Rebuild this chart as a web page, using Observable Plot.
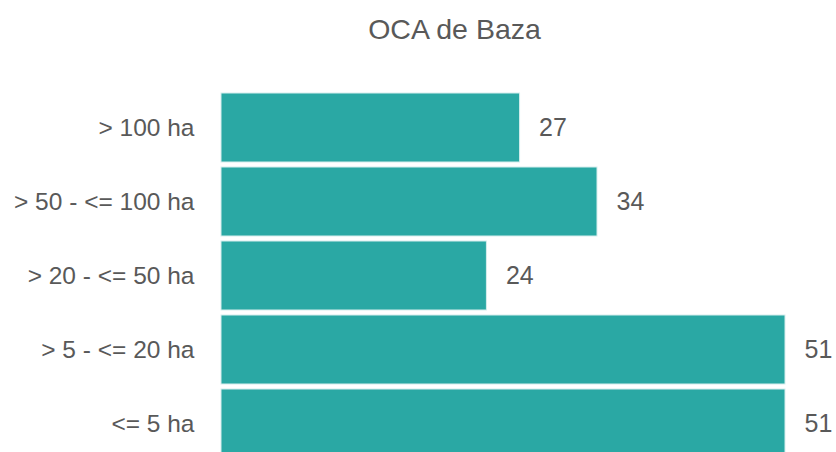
<!DOCTYPE html>
<html>
<head>
<meta charset="utf-8">
<script src="https://cdn.jsdelivr.net/npm/d3@7"></script>
<script src="https://cdn.jsdelivr.net/npm/@observablehq/plot@0.6"></script>
<style>
  html, body { margin: 0; padding: 0; background: #fff; overflow: hidden; }
  #chart svg { display: block; }
</style>
</head>
<body>
<div id="chart"></div>
<script>
const titleText = "OCA de Baza";
const categories = ["> 100 ha", "> 50 - <= 100 ha", "> 20 - <= 50 ha", "> 5 - <= 20 ha", "<= 5 ha"];
const values = [27, 34, 24, 51, 51];

const data = categories.map((c, i) => ({cat: c, value: values[i]}));

const chart = Plot.plot({
  width: 836,
  height: 464,
  marginTop: 87.5,
  marginBottom: 0,
  marginLeft: 221,
  marginRight: 51,
  style: {fontFamily: "'Liberation Sans', Arial, sans-serif", background: "#fff"},
  x: {domain: [0, 51], axis: null},
  y: {domain: categories, padding: 0.065, axis: null},
  marks: [
    Plot.barX(data, {x: "value", y: "cat", fill: "#2AA8A4", stroke: "#d6eeed", strokeWidth: 1}),
    Plot.text(data, {x: "value", y: "cat", text: d => String(d.value), dx: 19, textAnchor: "start", fontSize: 25, fill: "#595959"}),
    Plot.axisY({tickSize: 0, tickPadding: 27, fontSize: 24.5, color: "#595959", label: null}),
    Plot.text([titleText], {frameAnchor: "top", dx: -49, dy: -49.5, lineAnchor: "bottom", fontSize: 28.5, fill: "#595959"})
  ]
});
document.getElementById("chart").appendChild(chart);
</script>
</body>
</html>
